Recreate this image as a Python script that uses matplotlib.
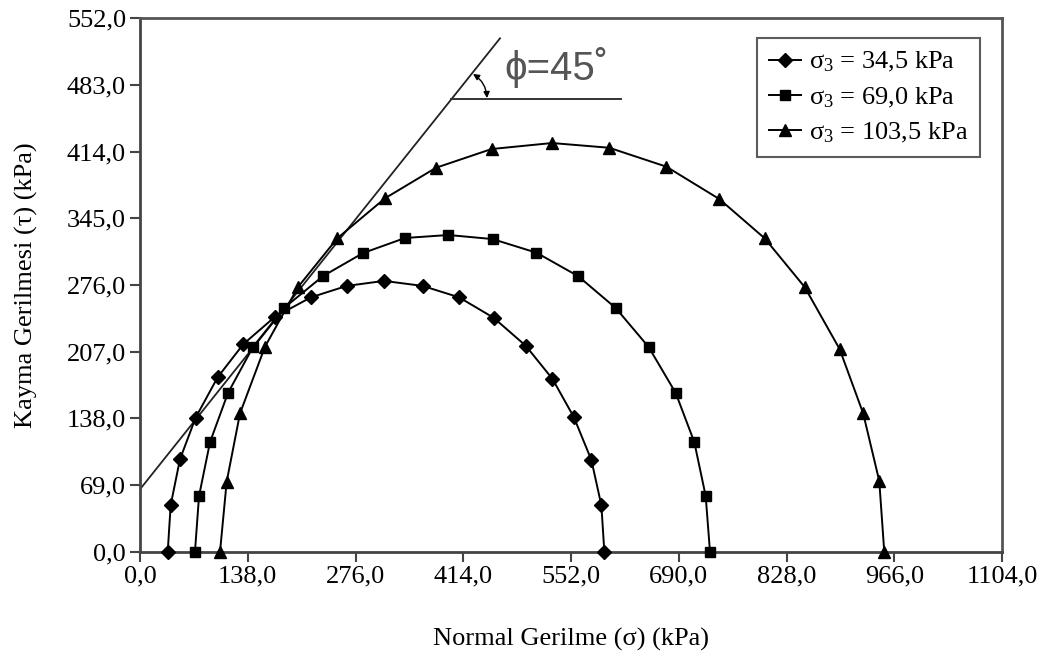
import matplotlib
matplotlib.use("Agg")
import matplotlib.pyplot as plt
from matplotlib.ticker import FixedLocator, FuncFormatter

plt.rcParams["font.family"] = ["Liberation Serif", "DejaVu Serif"]
plt.rcParams["mathtext.fontset"] = "custom"
plt.rcParams["mathtext.rm"] = "Liberation Serif"
plt.rcParams["mathtext.it"] = "Liberation Serif"

# sigma3 = 34,5 kPa
sigma_1 = [35.5, 39.3, 51.2, 71.3, 99.5, 132.3, 172.9, 219.0, 264.7, 312.5,
           362.1, 408.6, 452.8, 494.0, 528.3, 555.7, 578.1, 590.9, 594.7]
tau_1 = [0, 48.3, 95.7, 138.8, 180.6, 214.8, 243.2, 263.3, 275.1, 280.3,
         275.1, 263.3, 242.2, 213.2, 178.8, 139.2, 94.9, 48.0, 0]

# sigma3 = 69,0 kPa
sigma_2 = [70.4, 75.6, 89.7, 112.7, 144.7, 184.4, 234.4, 285.6, 339.4, 395.0,
           451.5, 507.7, 561.0, 609.3, 651.4, 686.1, 709.9, 724.5, 730.0]
tau_2 = [0, 57.6, 113.5, 164.3, 211.9, 252.2, 285.3, 309.1, 324.7, 327.8,
         323.6, 309.5, 285.3, 252.2, 211.9, 164.3, 113.5, 57.6, 0]

# sigma3 = 103,5 kPa
sigma_3 = [102.5, 111.0, 128.1, 160.1, 202.4, 252.7, 313.8, 379.1, 450.3, 527.7,
           601.0, 674.2, 742.0, 800.0, 851.2, 896.0, 926.2, 946.8, 953.2]
tau_3 = [0, 72.4, 143.2, 212.2, 274.0, 324.4, 365.8, 397.4, 416.8, 423.0,
         418.1, 398.5, 365.0, 324.4, 274.0, 209.8, 143.2, 73.2, 0]

labels = [r"σ$_3$ = 34,5 kPa", r"σ$_3$ = 69,0 kPa", r"σ$_3$ = 103,5 kPa"]

# kirilma zarfi (c ~ 64,6 kPa, phi = 45)
zarf_x = [0, 461.1]
zarf_y = [64.6, 531.4]
yatay_x = [398.3, 616.0]
yatay_y = [468.5, 468.5]

x_ticks = [0, 138, 276, 414, 552, 690, 828, 966, 1104]
y_ticks = [0, 69, 138, 207, 276, 345, 414, 483, 552]

fig = plt.figure(figsize=(10.46, 6.61), dpi=100)
ax = fig.add_axes([140 / 1046, 1 - 551.7 / 661, 862 / 1046, 533.3 / 661])

ax.plot(sigma_1, tau_1, color="black", lw=1.4, marker="D", ms=7.5,
        label=labels[0], clip_on=False, zorder=3)
ax.plot(sigma_2, tau_2, color="black", lw=1.4, marker="s", ms=7.5,
        label=labels[1], clip_on=False, zorder=3)
ax.plot(sigma_3, tau_3, color="black", lw=1.4, marker="^", ms=9,
        label=labels[2], clip_on=False, zorder=3)

ax.plot(zarf_x, zarf_y, color="#222222", lw=1.3, zorder=2)
ax.plot(yatay_x, yatay_y, color="#333333", lw=1.4, zorder=2)
ax.annotate("", xy=(444.4, 469.5), xytext=(426.5, 494.5),
            arrowprops=dict(arrowstyle="<|-|>", color="black", lw=1.0,
                            mutation_scale=9,
                            connectionstyle="arc3,rad=-0.25",
                            shrinkA=0, shrinkB=0))
ax.text(467, 488, "ϕ=45˚", family=["Liberation Sans", "DejaVu Sans"],
        fontsize=29, color="#555555", va="baseline", ha="left")

ax.set_xlim(0, 1104)
ax.set_ylim(0, 552)
ax.xaxis.set_major_locator(FixedLocator(x_ticks))
ax.yaxis.set_major_locator(FixedLocator(y_ticks))
virgul = FuncFormatter(lambda v, p: f"{v:.1f}".replace(".", ","))
ax.xaxis.set_major_formatter(virgul)
ax.yaxis.set_major_formatter(virgul)
ax.tick_params(direction="out", length=7, width=1.5, color="#444444",
               labelsize=19, pad=3)

for s in ax.spines.values():
    s.set_linewidth(2)
    s.set_color("#555555")
ax.spines["left"].set_color("#444444")
ax.spines["bottom"].set_color("#444444")

ax.set_xlabel("Normal Gerilme (σ) (kPa)", fontsize=19)
ax.set_ylabel("Kayma Gerilmesi (τ) (kPa)", fontsize=19)
ax.xaxis.set_label_coords(0.5, -0.142)
ax.yaxis.set_label_coords(-0.118, 0.5)

leg = ax.legend(loc="upper right", bbox_to_anchor=(0.9745, 0.9625),
                fontsize=19, frameon=True, fancybox=False, borderaxespad=0,
                handlelength=1.2, handletextpad=0.3, labelspacing=0.42,
                borderpad=0.45)
leg.get_frame().set_edgecolor("#333333")
leg.get_frame().set_linewidth(1.5)

fig.savefig("out.png", dpi=100)
